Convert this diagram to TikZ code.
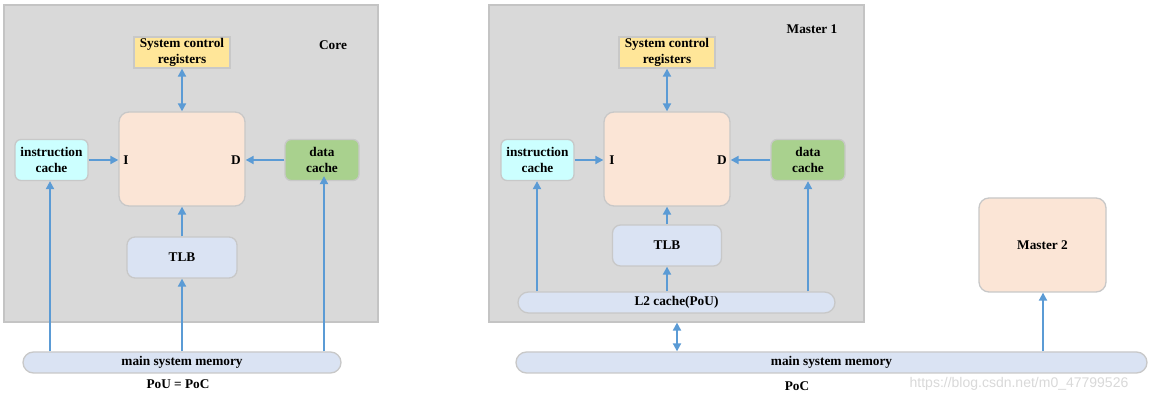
\documentclass[tikz,border=0pt]{standalone}
\usepackage{fontspec}
\setmainfont{Liberation Serif}
\setsansfont{Liberation Sans}
\usetikzlibrary{arrows.meta}
\definecolor{panel}{HTML}{D9D9D9}
\definecolor{panelb}{HTML}{C4C4C4}
\definecolor{scr}{HTML}{FFE699}
\definecolor{cpu}{HTML}{FBE5D6}
\definecolor{icache}{HTML}{CCFFFF}
\definecolor{dcache}{HTML}{A9D18E}
\definecolor{tlbc}{HTML}{DAE3F3}
\definecolor{arr}{HTML}{5B9BD5}
\definecolor{edgec}{HTML}{C8C8C8}
\begin{document}
\begin{tikzpicture}[x=1pt,y=-1pt,
  panelbox/.style={draw=panelb,line width=1.2pt,fill=panel,inner sep=0pt},
  box/.style={draw=edgec,line width=1.3pt,font=\fontsize{13.3}{16}\selectfont\bfseries,align=center,inner sep=0pt},
  lbl/.style={font=\fontsize{13.3}{16}\selectfont\bfseries,inner sep=0pt},
  conn/.style={draw=arr,line width=1.9pt,-{Triangle[length=8pt,width=8pt]}},
  dconn/.style={draw=arr,line width=1.9pt,{Triangle[length=8pt,width=8pt]}-{Triangle[length=8pt,width=8pt]}}]
\useasboundingbox[fill=white] (0,0) rectangle (1152,403);

% ---------- left: Core ----------
\node[panelbox,minimum width=374pt,minimum height=317pt] (panelL) at (191,163.5) {};
\node[lbl] (coreL) at (333,45) {Core};
\node[box,fill=scr,minimum width=96pt,minimum height=31pt] (scrL) at (182,52.5) {System control\\registers};
\node[box,fill=cpu,rounded corners=10pt,minimum width=126pt,minimum height=94pt] (cpuL) at (182,159) {};
\node[lbl] (iL) at (126,160) {I};
\node[lbl] (dL) at (236,160) {D};
\node[box,fill=icache,rounded corners=6pt,minimum width=73pt,minimum height=41pt] (icL) at (51.5,160) {instruction\\cache};
\node[box,fill=dcache,rounded corners=6pt,minimum width=74pt,minimum height=41pt] (dcL) at (322,160) {data\\cache};
\node[box,fill=tlbc,rounded corners=8pt,minimum width=110pt,minimum height=41pt] (tlbL) at (182,257.5) {TLB};
\node[box,fill=tlbc,rounded corners=10.5pt,minimum width=318pt,minimum height=21pt] (memL) at (182,362.5) {main system memory};
\node[lbl] (pocL) at (178,384) {PoU = PoC};

\draw[dconn] (scrL.south) -- (cpuL.north);
\draw[conn] (icL.east) -- (cpuL.west |- icL.east);
\draw[conn] (dcL.west) -- (cpuL.east |- dcL.west);
\draw[conn] (tlbL.north) -- (cpuL.south);
\draw[conn] (memL.north) -- (tlbL.south);
\draw[conn] (memL.north -| 50,0) -- (icL.south -| 50,0);
\draw[conn] (memL.north -| 324,0) -- ([yshift=5pt]dcL.south -| 324,0);

% ---------- right: Master 1 ----------
\node[panelbox,minimum width=375pt,minimum height=317pt] (panelR) at (676.5,163.5) {};
\node[lbl] (m1) at (812,29) {Master 1};
\node[box,fill=scr,minimum width=96pt,minimum height=31pt] (scrR) at (667,52.5) {System control\\registers};
\node[box,fill=cpu,rounded corners=10pt,minimum width=126pt,minimum height=94pt] (cpuR) at (667,159) {};
\node[lbl] (iR) at (612,160) {I};
\node[lbl] (dR) at (722,160) {D};
\node[box,fill=icache,rounded corners=6pt,minimum width=73pt,minimum height=41pt] (icR) at (537.5,160) {instruction\\cache};
\node[box,fill=dcache,rounded corners=6pt,minimum width=74pt,minimum height=41pt] (dcR) at (808,160) {data\\cache};
\node[box,fill=tlbc,rounded corners=8pt,minimum width=109pt,minimum height=41pt] (tlbR) at (667,245.5) {TLB};
\node[box,fill=tlbc,rounded corners=10.5pt,minimum width=317pt,minimum height=21pt] (l2) at (676.5,302.5) {L2 cache(PoU)};

\draw[dconn] (scrR.south) -- (cpuR.north);
\draw[conn] (icR.east) -- (cpuR.west |- icR.east);
\draw[conn] (dcR.west) -- (cpuR.east |- dcR.west);
\draw[conn] (tlbR.north) -- (cpuR.south);
\draw[conn] (l2.north -| tlbR.south) -- (tlbR.south);
\draw[conn] (l2.north -| 537,0) -- (icR.south -| 537,0);
\draw[conn] (l2.north -| 808,0) -- (dcR.south -| 808,0);

% ---------- Master 2 and shared memory ----------
\node[box,fill=cpu,rounded corners=10pt,minimum width=127pt,minimum height=94pt] (m2) at (1042.5,245) {Master 2};
\node[box,fill=tlbc,rounded corners=10.5pt,minimum width=631pt,minimum height=21pt] (memR) at (831.5,362.5) {main system memory};
\node[lbl] (pocR) at (797,386) {PoC};

\draw[dconn] (panelR.south -| 677,0) -- (memR.north -| 677,0);
\draw[conn] (memR.north -| 1043,0) -- (m2.south -| 1043,0);

\node[font=\sffamily\fontsize{14}{16}\selectfont,text=black!15,inner sep=0pt] (wm) at (1019,384) {https://blog.csdn.net/m0\_47799526};
\end{tikzpicture}
\end{document}
